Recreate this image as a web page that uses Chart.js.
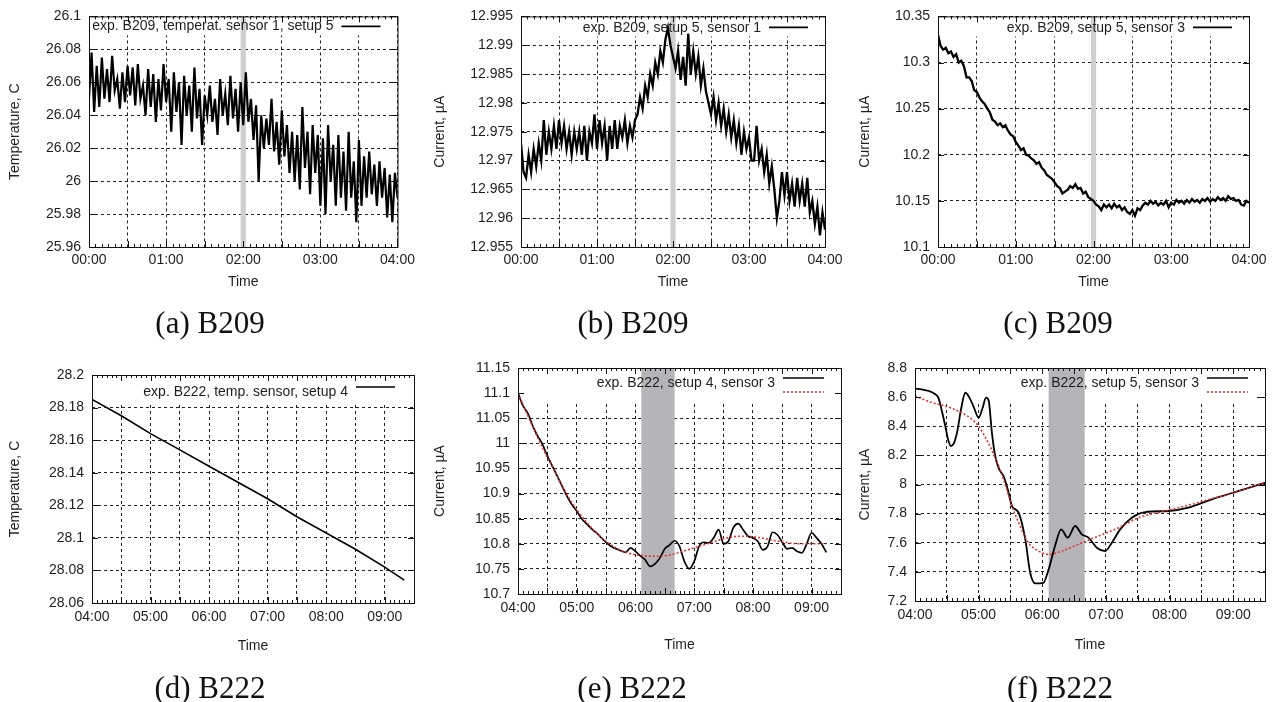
<!DOCTYPE html>
<html><head><meta charset="utf-8">
<script src="https://cdn.jsdelivr.net/npm/chart.js@4.4.1/dist/chart.umd.min.js"></script>
<style>
html,body{margin:0;padding:0;background:#fff;}
#wrap{position:relative;width:1274px;height:702px;overflow:hidden;background:#fff;}
canvas{position:absolute;}
.cap{position:absolute;width:300px;height:36px;line-height:36px;text-align:center;font-family:"Liberation Serif","Times New Roman",serif;font-size:31px;color:#111;}
</style></head><body>
<div id="wrap">
<canvas id="pa" width="420" height="300" style="left:0px;top:0px"></canvas>
<canvas id="pb" width="430" height="300" style="left:420px;top:0px"></canvas>
<canvas id="pc" width="424" height="300" style="left:850px;top:0px"></canvas>
<canvas id="pd" width="420" height="362" style="left:0px;top:340px"></canvas>
<canvas id="pe" width="430" height="362" style="left:420px;top:340px"></canvas>
<canvas id="pf" width="424" height="362" style="left:850px;top:340px"></canvas>
<div class="cap" style="left:60px;top:305px">(a) B209</div>
<div class="cap" style="left:483px;top:305px">(b) B209</div>
<div class="cap" style="left:908px;top:305px">(c) B209</div>
<div class="cap" style="left:60px;top:670px">(d) B222</div>
<div class="cap" style="left:482px;top:670px">(e) B222</div>
<div class="cap" style="left:910px;top:670px">(f) B222</div>
</div>
<script>
// ================= DATA =================
// time axis (minutes after 00:00)
const xTicksTop = [0,30,60,90,120,150,180,210,240];
const xLabelsTop = ['00:00','','01:00','','02:00','','03:00','','04:00'];
const xTicksBottom = [240,270,300,330,360,390,420,450,480,510,540,570];
const xLabelsBottom = ['04:00','','05:00','','06:00','','07:00','','08:00','','09:00',''];

const yTicksA = [25.96,25.98,26,26.02,26.04,26.06,26.08,26.1];
const yLabelsA = ['25.96','25.98','26','26.02','26.04','26.06','26.08','26.1'];
const yTicksB = [12.955,12.96,12.965,12.97,12.975,12.98,12.985,12.99,12.995];
const yLabelsB = ['12.955','12.96','12.965','12.97','12.975','12.98','12.985','12.99','12.995'];
const yTicksC = [10.1,10.15,10.2,10.25,10.3,10.35];
const yLabelsC = ['10.1','10.15','10.2','10.25','10.3','10.35'];
const yTicksD = [28.06,28.08,28.1,28.12,28.14,28.16,28.18,28.2];
const yLabelsD = ['28.06','28.08','28.1','28.12','28.14','28.16','28.18','28.2'];
const yTicksE = [10.7,10.75,10.8,10.85,10.9,10.95,11,11.05,11.1,11.15];
const yLabelsE = ['10.7','10.75','10.8','10.85','10.9','10.95','11','11.05','11.1','11.15'];
const yTicksF = [7.2,7.4,7.6,7.8,8,8.2,8.4,8.6,8.8];
const yLabelsF = ['7.2','7.4','7.6','7.8','8','8.2','8.4','8.6','8.8'];

// B209 series: one sample every 2 minutes from 00:00
const sampleStepB209 = 2;
const tempA = [
 26.050,26.078,26.042,26.070,26.045,26.075,26.050,26.068,26.048,26.076,
 26.055,26.062,26.044,26.066,26.048,26.070,26.052,26.069,26.046,26.071,
 26.050,26.058,26.040,26.068,26.045,26.065,26.036,26.062,26.043,26.071,
 26.048,26.062,26.030,26.066,26.042,26.060,26.022,26.064,26.040,26.058,
 26.030,26.069,26.038,26.056,26.022,26.052,26.040,26.058,26.036,26.050,
 26.028,26.062,26.040,26.053,26.034,26.064,26.038,26.056,26.030,26.060,
 26.034,26.066,26.036,26.050,26.025,26.046,26.000,26.040,26.020,26.038,
 26.022,26.050,26.018,26.036,26.010,26.043,26.015,26.034,26.005,26.030,
 26.000,26.028,25.995,26.045,26.008,26.030,25.992,26.034,26.005,26.028,
 25.985,26.026,25.980,26.034,26.000,26.022,25.985,26.028,25.990,26.018,
 25.982,26.030,25.990,26.012,25.975,26.025,25.985,26.015,25.990,26.018,
 25.992,26.010,25.985,26.012,25.990,26.008,25.978,26.004,25.975,26.005,
 25.990];
const currentB = [
 12.973,12.968,12.967,12.971,12.968,12.972,12.969,12.973,12.970,12.977,
 12.971,12.975,12.972,12.976,12.972,12.977,12.973,12.976,12.972,12.975,
 12.971,12.975,12.972,12.975,12.971,12.976,12.970,12.975,12.973,12.978,
 12.972,12.977,12.973,12.976,12.970,12.976,12.972,12.977,12.972,12.976,
 12.974,12.977,12.973,12.976,12.974,12.977,12.978,12.981,12.979,12.983,
 12.981,12.985,12.983,12.987,12.985,12.989,12.987,12.991,12.993,12.990,
 12.988,12.986,12.989,12.984,12.988,12.983,12.992,12.985,12.989,12.985,
 12.988,12.983,12.986,12.982,12.980,12.978,12.981,12.977,12.980,12.976,
 12.979,12.975,12.978,12.974,12.977,12.973,12.976,12.971,12.975,12.972,
 12.974,12.970,12.970,12.976,12.970,12.972,12.968,12.971,12.966,12.969,
 12.965,12.960,12.963,12.968,12.964,12.968,12.963,12.966,12.962,12.967,
 12.963,12.966,12.962,12.967,12.961,12.963,12.959,12.962,12.957,12.961,
 12.958];
const currentC = [
 10.330,10.318,10.314,10.316,10.310,10.312,10.306,10.309,10.300,10.302,
 10.296,10.284,10.284,10.280,10.270,10.268,10.262,10.258,10.255,10.250,
 10.246,10.238,10.236,10.232,10.234,10.230,10.232,10.226,10.222,10.220,
 10.214,10.210,10.205,10.207,10.200,10.199,10.196,10.194,10.190,10.192,
 10.186,10.183,10.178,10.176,10.174,10.170,10.166,10.164,10.158,10.160,
 10.162,10.166,10.164,10.168,10.163,10.164,10.158,10.160,10.154,10.152,
 10.150,10.146,10.144,10.140,10.146,10.143,10.146,10.142,10.147,10.143,
 10.145,10.140,10.143,10.138,10.136,10.140,10.134,10.142,10.140,10.145,
 10.148,10.146,10.150,10.147,10.149,10.145,10.148,10.146,10.150,10.143,
 10.148,10.146,10.151,10.148,10.150,10.147,10.151,10.148,10.152,10.149,
 10.151,10.148,10.152,10.150,10.153,10.149,10.152,10.150,10.154,10.151,
 10.153,10.150,10.155,10.152,10.153,10.150,10.151,10.146,10.145,10.150,
 10.148];

// B222 series (time in minutes after 00:00)
const timeD = [240,270,300,330,360,390,420,450,480,510,540,560];
const tempD = [28.185,28.175,28.164,28.154,28.144,28.134,28.124,28.113,28.103,28.093,28.082,28.074];

const timeE = [240,245,250,255,260,265,270,275,280,285,290,295,300,305,310,315,320,325,330,335,
 340,345,350,355,360,365,370,375,380,385,390,395,400,405,410,415,420,425,430,435,
 440,445,450,455,460,465,470,475,480,485,490,495,500,505,510,515,520,525,530,535,
 540,545,550,555];
const currentE = [11.100,11.075,11.060,11.035,11.015,10.998,10.975,10.955,10.935,10.915,
 10.895,10.878,10.865,10.850,10.840,10.830,10.822,10.812,10.803,10.795,
 10.790,10.786,10.783,10.792,10.785,10.776,10.768,10.755,10.760,10.772,
 10.790,10.798,10.806,10.795,10.765,10.750,10.765,10.795,10.803,10.802,
 10.812,10.828,10.800,10.805,10.832,10.840,10.828,10.815,10.812,10.805,
 10.788,10.795,10.823,10.818,10.803,10.790,10.792,10.785,10.782,10.800,
 10.822,10.812,10.800,10.783];
const timeESmooth = [240,250,260,270,280,290,300,310,320,330,340,350,360,370,380,390,400,410,420,430,
 440,450,460,470,480,490,500,510,520,530,540,555];
const currentESmooth = [11.100,11.055,11.012,10.972,10.935,10.898,10.868,10.843,10.822,10.805,
 10.792,10.783,10.778,10.776,10.775,10.776,10.780,10.786,10.792,10.798,
 10.804,10.810,10.814,10.815,10.814,10.811,10.807,10.804,10.801,10.800,10.800,10.800];

const timeF = [240,247,253,258,262,265.5,268.6,271.5,274,276.5,279.6,283.5,287.4,291,295,300,303.5,307,309.5,312.5,
 315.6,319.4,323.5,328.3,331.4,337.7,344,348.6,353.4,361,366,372,377.8,384,391,397.3,403.6,411.4,419.3,425.6,
 433.4,444.4,457,479,497.8,520,541.7,570];
const currentF = [8.658,8.652,8.642,8.625,8.596,8.50,8.40,8.30,8.264,8.28,8.356,8.52,8.630,8.60,8.539,8.459,8.52,8.596,8.575,8.356,
 8.196,8.104,8.058,7.944,7.852,7.806,7.623,7.394,7.321,7.325,7.417,7.578,7.692,7.635,7.715,7.658,7.635,7.566,7.543,7.600,
 7.692,7.772,7.811,7.818,7.841,7.898,7.948,8.012];
const timeFSmooth = [240,256,268.6,284,293.6,300,309,315.6,323.5,331.4,337.7,347,356.6,366,378.4,394,413,432,450.8,472.8,494.7,520,545,570];
const currentFSmooth = [8.608,8.562,8.539,8.493,8.448,8.40,8.287,8.184,8.035,7.852,7.738,7.60,7.543,7.52,7.543,7.589,7.646,7.703,7.772,7.813,7.852,7.903,7.955,8.014];

// shaded intervals (minutes)
const bandB209 = [118,122];
const bandB222 = [366,400];

// ================= CHARTS =================
Chart.defaults.font.family = '"Liberation Sans", Arial, sans-serif';
Chart.defaults.font.size = 14;
Chart.defaults.color = '#1e1e1e';

const gnuplotLook = {
  id: 'gnuplotLook',
  beforeDatasetsDraw(chart, args, o) {
    const {ctx, chartArea: a, scales: {x}} = chart;
    ctx.save();
    ctx.fillStyle = '#ffffff';
    ctx.fillRect(a.left + 1, a.top + 1, a.right - a.left - 1 - o.keyRightGap, o.keyHeight);
    if (o.band) {
      const x0 = x.getPixelForValue(o.band[0]);
      const x1 = x.getPixelForValue(o.band[1]);
      ctx.fillStyle = o.bandColor;
      ctx.fillRect(x0, a.top, x1 - x0, a.bottom - a.top);
    }
    ctx.restore();
  },
  afterDatasetsDraw(chart, args, o) {
    const {ctx, chartArea: a, scales: {x, y}} = chart;
    ctx.save();
    // key
    ctx.font = '14px "Liberation Sans", Arial, sans-serif';
    ctx.textAlign = 'right';
    ctx.textBaseline = 'middle';
    ctx.fillStyle = '#1e1e1e';
    const sr = a.right - o.keySampleRight, sl = sr - o.keySampleLen;
    chart.data.datasets.forEach((ds, i) => {
      const row = o.keyRows[i];
      if (ds.label) ctx.fillText(ds.label, sl - o.keyGap, a.top + row.textDy);
      ctx.strokeStyle = ds.borderColor;
      ctx.lineWidth = Math.min(ds.borderWidth, 1.6);
      ctx.setLineDash(ds.borderDash || []);
      ctx.beginPath();
      ctx.moveTo(sl, a.top + row.lineDy);
      ctx.lineTo(sr, a.top + row.lineDy);
      ctx.stroke();
    });
    // border + inward ticks
    ctx.setLineDash([]);
    ctx.strokeStyle = '#111';
    ctx.lineWidth = 1;
    ctx.strokeRect(a.left + 0.5, a.top + 0.5, a.right - a.left, a.bottom - a.top);
    ctx.beginPath();
    x.ticks.forEach(t => {
      const p = Math.round(x.getPixelForValue(t.value)) + 0.5;
      ctx.moveTo(p, a.top); ctx.lineTo(p, a.top + 6);
      ctx.moveTo(p, a.bottom); ctx.lineTo(p, a.bottom - 6);
    });
    for (let v = x.min; v <= x.max; v += o.minorStep) {
      const p = Math.round(x.getPixelForValue(v)) + 0.5;
      ctx.moveTo(p, a.top); ctx.lineTo(p, a.top + 3);
      ctx.moveTo(p, a.bottom); ctx.lineTo(p, a.bottom - 3);
    }
    y.ticks.forEach(t => {
      const p = Math.round(y.getPixelForValue(t.value)) + 0.5;
      ctx.moveTo(a.left, p); ctx.lineTo(a.left + 6, p);
      ctx.moveTo(a.right, p); ctx.lineTo(a.right - 6, p);
    });
    ctx.stroke();
    ctx.restore();
  }
};

function panel(id, c) {
  return new Chart(document.getElementById(id), {
    type: 'line',
    data: { datasets: c.datasets },
    options: {
      responsive: false, animation: false, devicePixelRatio: 1,
      layout: { padding: { left: 0, top: c.padTop, right: c.padRight, bottom: 0 } },
      elements: { point: { radius: 0 } },
      plugins: { legend: { display: false }, tooltip: { enabled: false }, gnuplotLook: c.look },
      scales: {
        x: {
          type: 'linear', min: c.xMin, max: c.xMax,
          afterFit: s => { s.height = c.xAxisH; },
          afterBuildTicks: s => { s.ticks = c.xTicks.map(v => ({ value: v })); },
          ticks: { autoSkip: false, maxRotation: 0, padding: c.xTickPad, callback: (v, i) => c.xLabels[i] },
          grid: { color: '#222', lineWidth: 1, drawTicks: false },
          border: { display: false, dash: [3, 3] },
          title: { display: true, text: 'Time', padding: { top: 0, bottom: c.xTitlePad } }
        },
        y: {
          type: 'linear', min: c.yMin, max: c.yMax,
          afterFit: s => { s.width = c.yAxisW; },
          afterBuildTicks: s => { s.ticks = c.yTicks.map(v => ({ value: v })); },
          ticks: { autoSkip: false, padding: 8, callback: (v, i) => c.yLabels[i] },
          grid: { color: '#222', lineWidth: 1, drawTicks: false },
          border: { display: false, dash: [3, 3] },
          title: { display: true, text: c.yTitle, padding: { top: c.yTitlePad, bottom: 0 } }
        }
      }
    },
    plugins: [gnuplotLook]
  });
}

const blackLine = (label, pts, extra) => Object.assign({ label, data: pts, borderColor: '#000', borderWidth: 1.5, tension: 0, order: 1 }, extra || {});
const redLine = (pts) => ({ label: '', data: pts, borderColor: 'rgb(228,48,48)', borderWidth: 1.6, borderDash: [2, 2], cubicInterpolationMode: 'monotone', order: 0 });
const zipXY = (xs, ys) => ys.map((v, i) => ({ x: xs[i], y: v }));
const stepXY = (ys, step, start) => ys.map((v, i) => ({ x: start + i * step, y: v }));

const topCommon = { xMin: 0, xMax: 240, xTicks: xTicksTop, xLabels: xLabelsTop, padTop: 15, xAxisH: 53, xTickPad: 5, xTitlePad: 9.6 };
const botCommon = { xMin: 240, xMax: 570, xTicks: xTicksBottom, xLabels: xLabelsBottom, xTickPad: 6 };
const keyOne = (dy, ldy, h) => ({ keyRows: [{ textDy: dy, lineDy: ldy }], keyHeight: h, keyRightGap: 8, keySampleRight: 17, keySampleLen: 39, keyGap: 8, minorStep: 5 });
const keyTwo = (h) => ({ keyRows: [{ textDy: 15, lineDy: 10 }, { textDy: 24, lineDy: 24 }], keyHeight: h, keyRightGap: 8, keySampleRight: 17, keySampleLen: 41, keyGap: 8, minorStep: 5 });

panel('pa', Object.assign({}, topCommon, {
  padRight: 21, yAxisW: 89, yTitlePad: 6.6, yTitle: 'Temperature, C',
  yMin: 25.96, yMax: 26.1, yTicks: yTicksA, yLabels: yLabelsA,
  datasets: [blackLine('exp. B209, temperat. sensor 1, setup 5', stepXY(tempA, sampleStepB209, 0), { borderWidth: 2.2 })],
  look: Object.assign(keyOne(10, 10, 18), { band: bandB209, bandColor: '#cfcfcf' })
}));
panel('pb', Object.assign({}, topCommon, {
  padRight: 25, yAxisW: 101, yTitlePad: 11.6, yTitle: 'Current, µA',
  yMin: 12.955, yMax: 12.995, yTicks: yTicksB, yLabels: yLabelsB,
  datasets: [blackLine('exp. B209, setup 5, sensor 1', stepXY(currentB, sampleStepB209, 0), { borderWidth: 2.3 })],
  look: Object.assign(keyOne(12, 11, 19), { band: bandB209, bandColor: '#cfcfcf' })
}));
panel('pc', Object.assign({}, topCommon, {
  padRight: 25, yAxisW: 88, yTitlePad: 6.6, yTitle: 'Current, µA',
  yMin: 10.1, yMax: 10.35, yTicks: yTicksC, yLabels: yLabelsC,
  datasets: [blackLine('exp. B209, setup 5, sensor 3', stepXY(currentC, sampleStepB209, 0), { borderWidth: 2.3 })],
  look: Object.assign(keyOne(12, 11, 19), { band: bandB209, bandColor: '#cfcfcf' })
}));
panel('pd', Object.assign({}, botCommon, {
  padTop: 35, padRight: 3, xAxisH: 99, xTitlePad: 47.6, yAxisW: 92, yTitlePad: 6.6, yTitle: 'Temperature, C',
  yMin: 28.06, yMax: 28.2, yTicks: yTicksD, yLabels: yLabelsD,
  datasets: [blackLine('exp. B222, temp. sensor, setup 4', zipXY(timeD, tempD), { borderWidth: 1.6 })],
  look: Object.assign(keyOne(17, 12, 29), { keySampleRight: 19 })
}));
panel('pe', Object.assign({}, botCommon, {
  padTop: 28, padRight: 9, xAxisH: 108, xTitlePad: 48.6, yAxisW: 98, yTitlePad: 11.6, yTitle: 'Current, µA',
  yMin: 10.7, yMax: 11.15, yTicks: yTicksE, yLabels: yLabelsE,
  datasets: [blackLine('exp. B222, setup 4, sensor 3', zipXY(timeE, currentE), { cubicInterpolationMode: 'monotone', borderWidth: 1.7 }),
             redLine(zipXY(timeESmooth, currentESmooth))],
  look: Object.assign(keyTwo(34), { band: bandB222, bandColor: '#b5b5b9' })
}));
panel('pf', Object.assign({}, botCommon, {
  padTop: 28, padRight: 9, xAxisH: 101, xTitlePad: 48.6, yAxisW: 65, yTitlePad: 6.6, yTitle: 'Current, µA',
  yMin: 7.2, yMax: 8.8, yTicks: yTicksF, yLabels: yLabelsF,
  datasets: [blackLine('exp. B222, setup 5, sensor 3', zipXY(timeF, currentF), { cubicInterpolationMode: 'monotone', borderWidth: 1.8 }),
             redLine(zipXY(timeFSmooth, currentFSmooth))],
  look: Object.assign(keyTwo(32), { band: bandB222, bandColor: '#b5b5b9' })
}));
</script>
</body></html>
